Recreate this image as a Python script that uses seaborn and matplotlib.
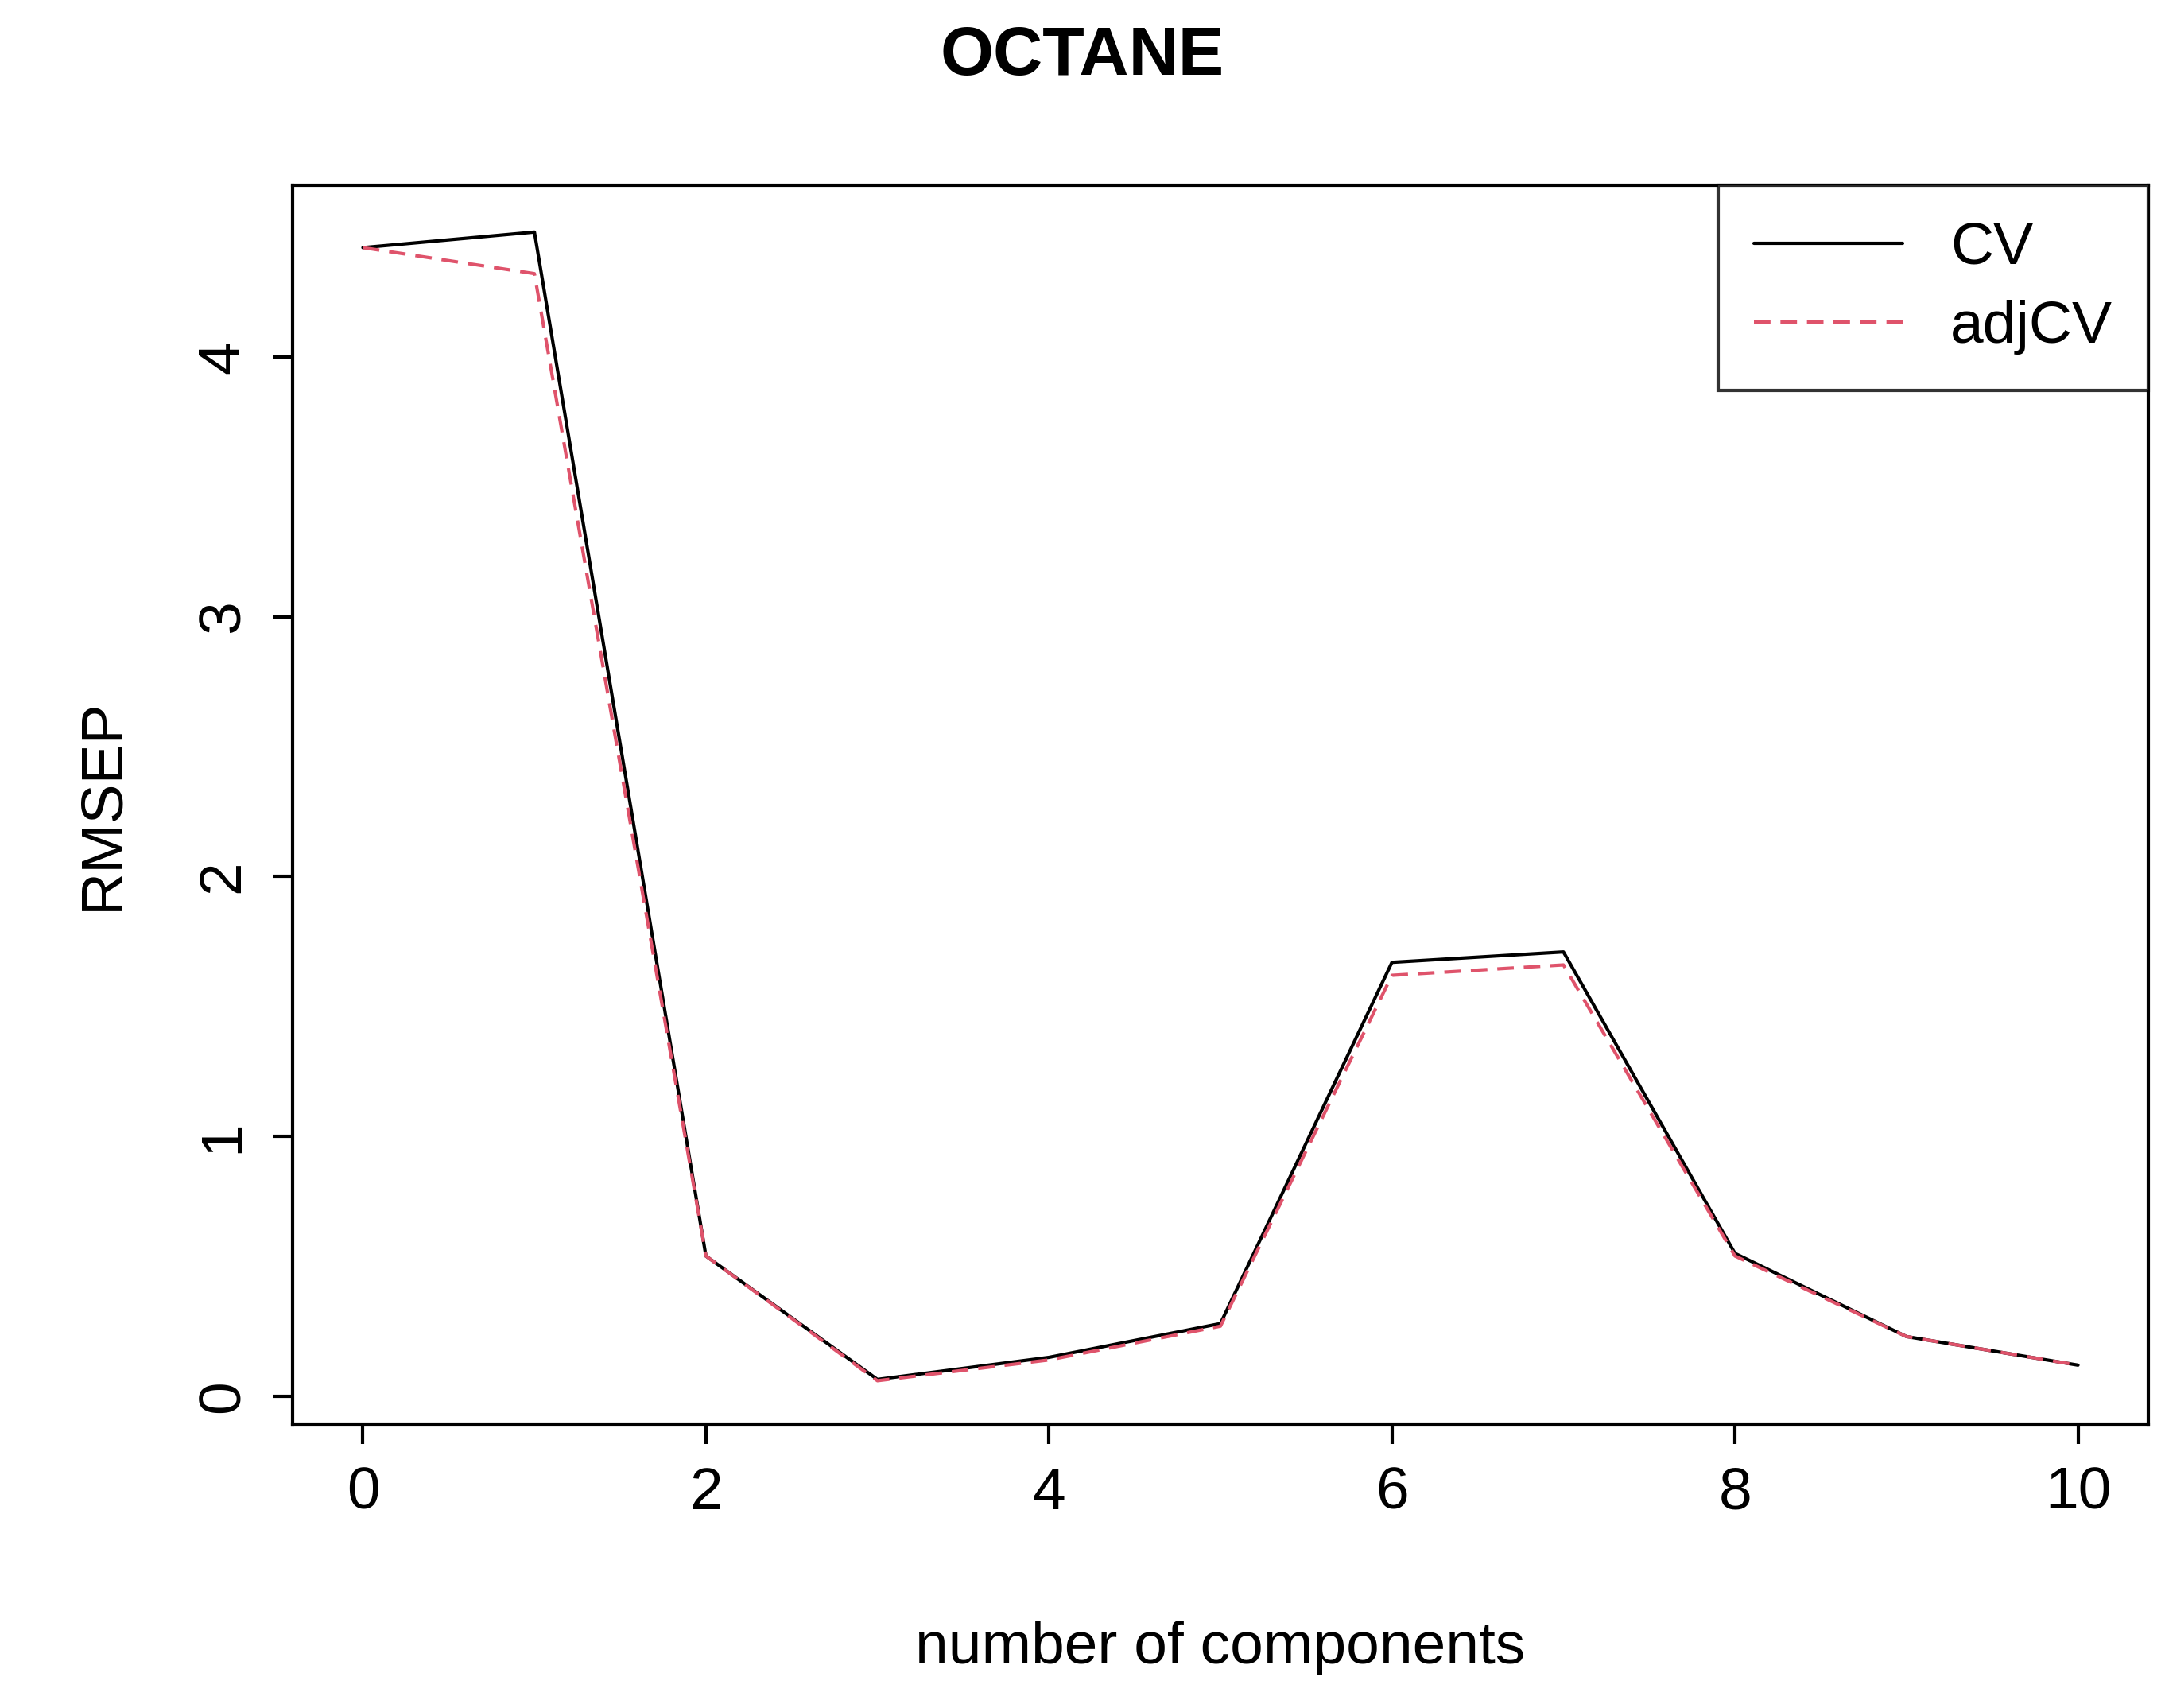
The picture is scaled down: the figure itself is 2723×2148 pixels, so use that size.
import matplotlib
matplotlib.use("Agg")
import matplotlib.pyplot as plt
import seaborn as sns
import pandas as pd

components = [0, 1, 2, 3, 4, 5, 6, 7, 8, 9, 10]
cv = [4.42, 4.48, 0.54, 0.065, 0.15, 0.28, 1.67, 1.71, 0.55, 0.23, 0.12]
adjcv = [4.42, 4.32, 0.54, 0.06, 0.14, 0.27, 1.62, 1.66, 0.54, 0.23, 0.12]

sns.set_style("white")
plt.rcParams['font.family'] = ['Liberation Sans', 'DejaVu Sans']
plt.rcParams['text.color'] = 'black'
plt.rcParams['axes.labelcolor'] = 'black'
plt.rcParams['xtick.color'] = 'black'
plt.rcParams['ytick.color'] = 'black'

fig = plt.figure(figsize=(27.23, 21.48), dpi=100)
ax = fig.add_axes([368/2723, 1 - 1791/2148, (2702-368)/2723, (1791-233)/2148])

df = pd.DataFrame({"comp": components + components,
                   "RMSEP": cv + adjcv,
                   "type": ["CV"]*len(cv) + ["adjCV"]*len(adjcv)})
sns.lineplot(data=df[df.type == "CV"], x="comp", y="RMSEP", color="black", lw=3, ax=ax, label="CV")
sns.lineplot(data=df[df.type == "adjCV"], x="comp", y="RMSEP", color="#DF536B", lw=3,
             ax=ax, label="adjCV")
ax.lines[1].set_linestyle((0, (5, 3)))

ax.set_xlim(-0.41, 10.41)
ax.set_ylim(-0.107, 4.66)
ax.set_xticks([0, 2, 4, 6, 8, 10])
ax.set_yticks([0, 1, 2, 3, 4])
ax.tick_params(axis='both', labelsize=54, length=18, width=3, direction='out', pad=20)
ax.tick_params(axis='x', bottom=True)
ax.tick_params(axis='y', left=True)
for lab in ax.get_yticklabels():
    lab.set_rotation(90)
    lab.set_va('center')
for s in ax.spines.values():
    s.set_linewidth(3)
    s.set_color('black')
ax.set_xlabel("number of components", fontsize=54, labelpad=90)
ax.set_ylabel("RMSEP", fontsize=54, labelpad=60)
fig.suptitle("OCTANE", fontsize=62, fontweight='bold', y=0.985)

leg = ax.legend(loc='upper right', fontsize=54, frameon=True, fancybox=False,
                borderaxespad=0, handlelength=2.5, borderpad=0.6, labelspacing=0.4)
leg.get_frame().set_edgecolor('black')
leg.get_frame().set_linewidth(3)
for h in leg.get_lines():
    h.set_linewidth(3)

fig.savefig("out.png", dpi=100)
